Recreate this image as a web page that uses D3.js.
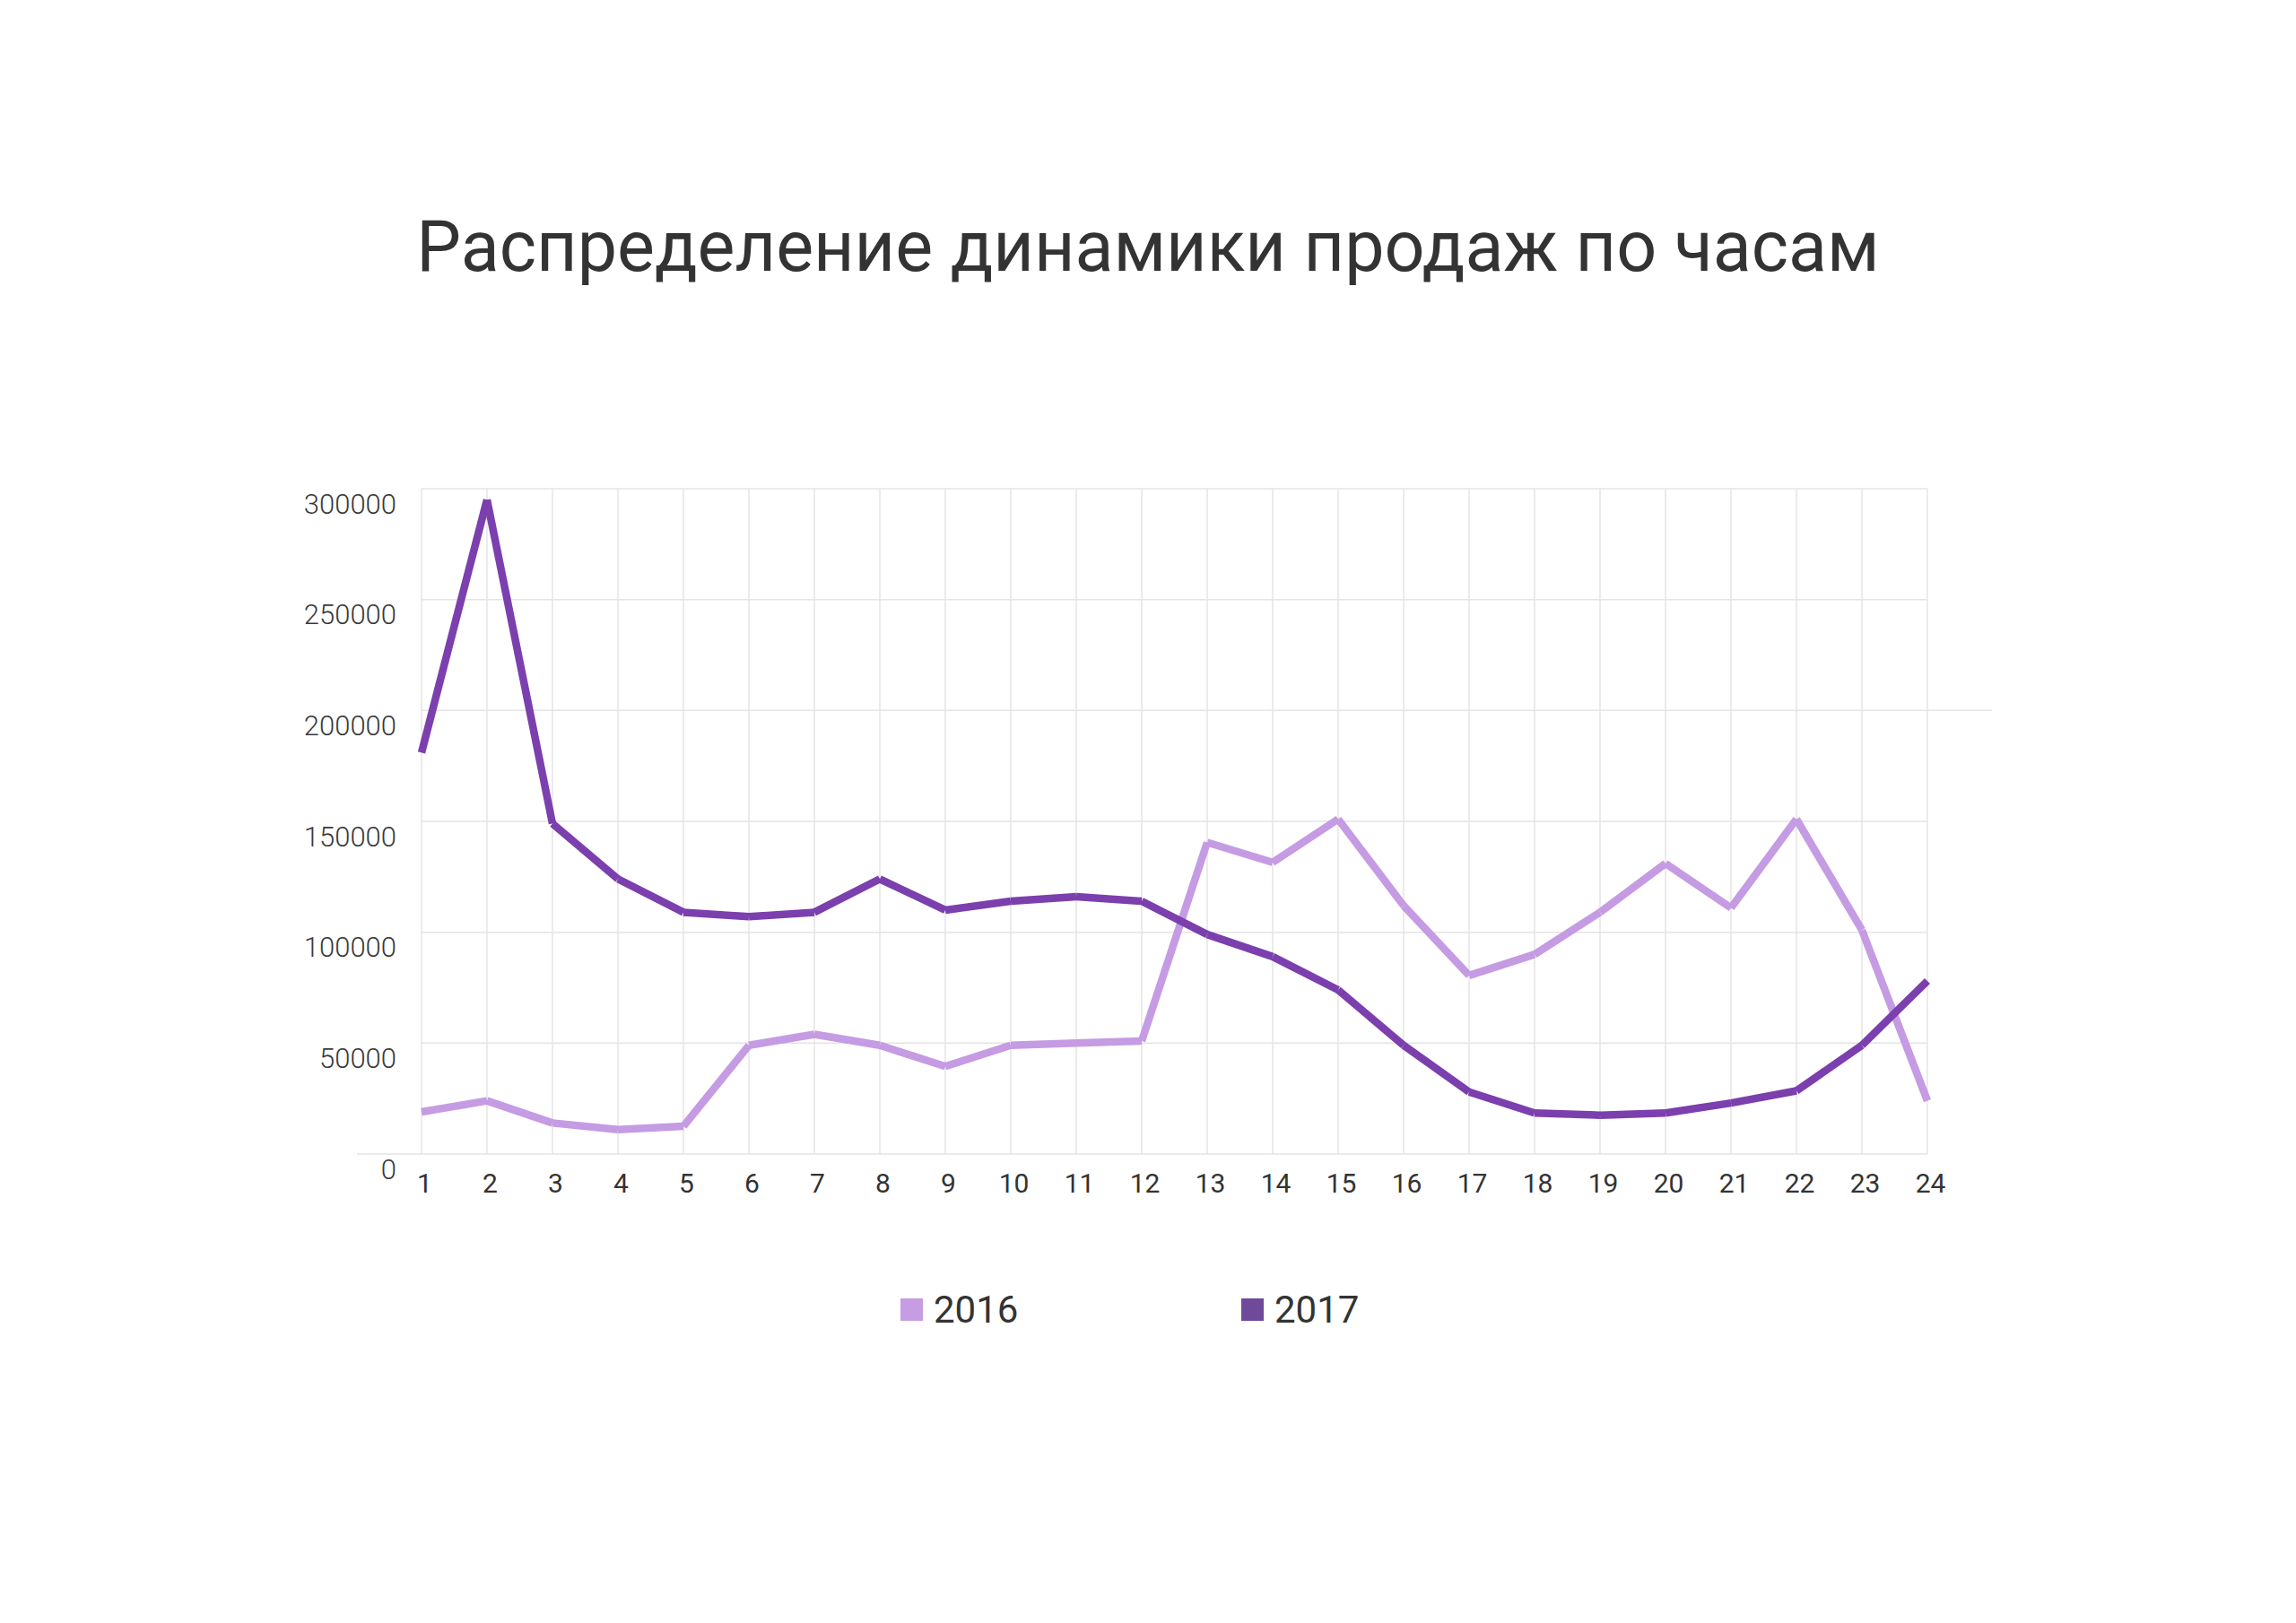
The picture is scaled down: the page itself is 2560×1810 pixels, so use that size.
<!DOCTYPE html>
<html>
<head>
<meta charset="utf-8">
<script src="https://cdn.jsdelivr.net/npm/d3@7"></script>
<style>
  body { margin: 0; background: #fff; }
  svg { display: block; font-family: Roboto, "Noto Sans", sans-serif; }
</style>
</head>
<body>
<svg id="chart"></svg>
<script>
var hours = d3.range(1, 25);
var sales2016 = [19000, 24000, 14000, 11000, 12500, 49000, 54000, 49000, 39500, 49000, 50000, 51000,
                 140500, 131500, 151000, 112000, 80500, 90000, 109000, 131000, 111000, 151000, 101000, 24000];
var sales2017 = [181000, 295000, 149000, 124000, 109000, 107000, 109000, 124000, 110000, 114000, 116000, 114000,
                 99000, 89000, 74000, 49000, 28000, 18500, 17500, 18500, 23000, 28500, 49000, 78000];
var yTicks = [0, 50000, 100000, 150000, 200000, 250000, 300000];
var seriesNames = ["2016", "2017"];
var title = "Распределение динамики продаж по часам";

var width = 2560, height = 1810;
var plotLeft = 470, plotRight = 2149, plotTop = 545, plotBottom = 1287;

var lineColors = ["#c59be3", "#7b3fae"];
var legendColors = ["#c69de3", "#6f4a9b"];

var svg = d3.select('#chart')
	.attr('width', width)
	.attr('height', height);

svg.append('rect')
	.attr('width', width)
	.attr('height', height)
	.attr('fill', '#fff');

svg.append('text')
	.attr('x', width / 2)
	.attr('y', 302)
	.attr('text-anchor', 'middle')
	.style('font-size', '79px')
	.attr('fill', '#333')
	.text(title);

var x = d3.scalePoint()
	.domain(hours)
	.range([plotLeft, plotRight]);

var y = d3.scaleLinear()
	.domain([0, 300000])
	.range([plotBottom, plotTop]);

//Grid
var grid = svg.append('g').classed('grid', true);

grid.selectAll('.hline')
	.data(yTicks)
	.enter()
	.append('line')
	.attr('x1', d => d === 0 ? plotLeft - 72 : plotLeft)
	.attr('x2', d => d === 200000 ? plotRight + 72 : plotRight)
	.attr('y1', d => y(d))
	.attr('y2', d => y(d))
	.attr('stroke', '#e4e4e4')
	.attr('stroke-width', 1.5);

grid.selectAll('.vline')
	.data(hours)
	.enter()
	.append('line')
	.attr('x1', d => x(d))
	.attr('x2', d => x(d))
	.attr('y1', plotTop)
	.attr('y2', plotBottom)
	.attr('stroke', '#e4e4e4')
	.attr('stroke-width', 1.5);

//Axes
var yAxis = svg.append('g')
	.attr('transform', 'translate(' + plotLeft + ',0)')
	.call(d3.axisLeft(y).tickValues(yTicks).tickSize(0).tickPadding(28).tickFormat(d3.format('d')));
yAxis.select('.domain').remove();
yAxis.selectAll('text')
	.attr('dy', null)
	.attr('y', 27)
	.attr('fill', '#3a3a3a')
	.style('font-size', '31px')
	.style('font-weight', 300)
	.style('font-family', 'Roboto');

var xAxis = svg.append('g')
	.attr('transform', 'translate(0,' + plotBottom + ')')
	.call(d3.axisBottom(x).tickSize(0).tickPadding(0));
xAxis.select('.domain').remove();
xAxis.selectAll('text')
	.attr('dy', null)
	.attr('x', 3)
	.attr('y', 43)
	.attr('fill', '#333')
	.style('font-size', '30px')
	.style('font-family', 'Roboto');

//Lines, drawn segment by segment with butt ends
var line = d3.line()
	.x(d => x(d[0]))
	.y(d => y(d[1]));

[sales2016, sales2017].forEach((values, i) => {
	var pts = hours.map((h, j) => [h, values[j]]);
	svg.append('g')
		.selectAll('path')
		.data(d3.pairs(pts))
		.enter()
		.append('path')
		.attr('d', line)
		.attr('fill', 'none')
		.attr('stroke', lineColors[i])
		.attr('stroke-width', 8.5)
		.attr('stroke-linecap', 'butt');
});

//Legend
var legendX = [1004, 1384];
var legend = svg.append('g').classed('legend', true);
var items = legend.selectAll('g')
	.data(seriesNames)
	.enter()
	.append('g')
	.attr('transform', (d, i) => 'translate(' + legendX[i] + ',1448)');

items.append('rect')
	.attr('width', 25)
	.attr('height', 25)
	.attr('fill', (d, i) => legendColors[i]);

items.append('text')
	.attr('x', 37)
	.attr('y', 27)
	.attr('fill', '#333')
	.style('font-size', '42px')
	.text(d => d);
</script>
</body>
</html>
